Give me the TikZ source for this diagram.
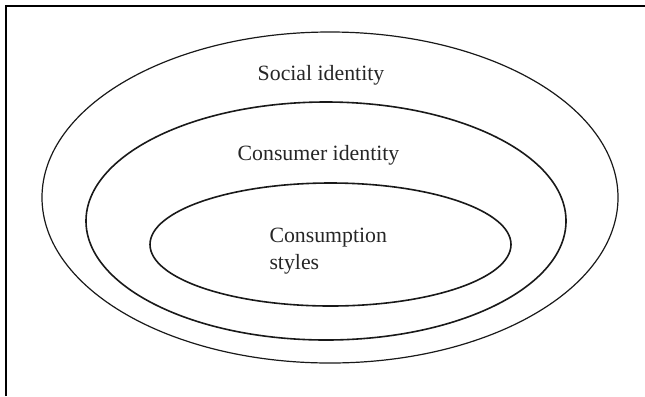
\documentclass[tikz,border=0pt]{standalone}
\usepackage{fontspec}
\setmainfont{Liberation Serif}
\begin{document}
\begin{tikzpicture}[x=1bp,y=-1bp,
  lbl/.style={inner sep=0pt, anchor=base, font=\fontsize{21.8bp}{27bp}\selectfont, text=black!85},
  ring/.style={draw=black!90}]
\useasboundingbox (0,0) rectangle (645,396);
\draw[line width=2bp] (6.3,396) -- (6.3,5.7) -- (645,5.7);
\draw[ring, line width=1.2bp] (330,197.5) ellipse [x radius=288, y radius=165.5];
\draw[ring, line width=1.6bp] (326,221) ellipse [x radius=240, y radius=119];
\draw[ring, line width=1.6bp] (330.5,244.5) ellipse [x radius=180.5, y radius=61.5];
\node[lbl] (social) at (321,80) {Social identity};
\node[lbl] (consumer) at (318.5,160) {Consumer identity};
\node[lbl, anchor=base west] (cons1) at (269.3,242) {Consumption};
\node[lbl, anchor=base west] (cons2) at (269.3,269) {styles};
\end{tikzpicture}
\end{document}
